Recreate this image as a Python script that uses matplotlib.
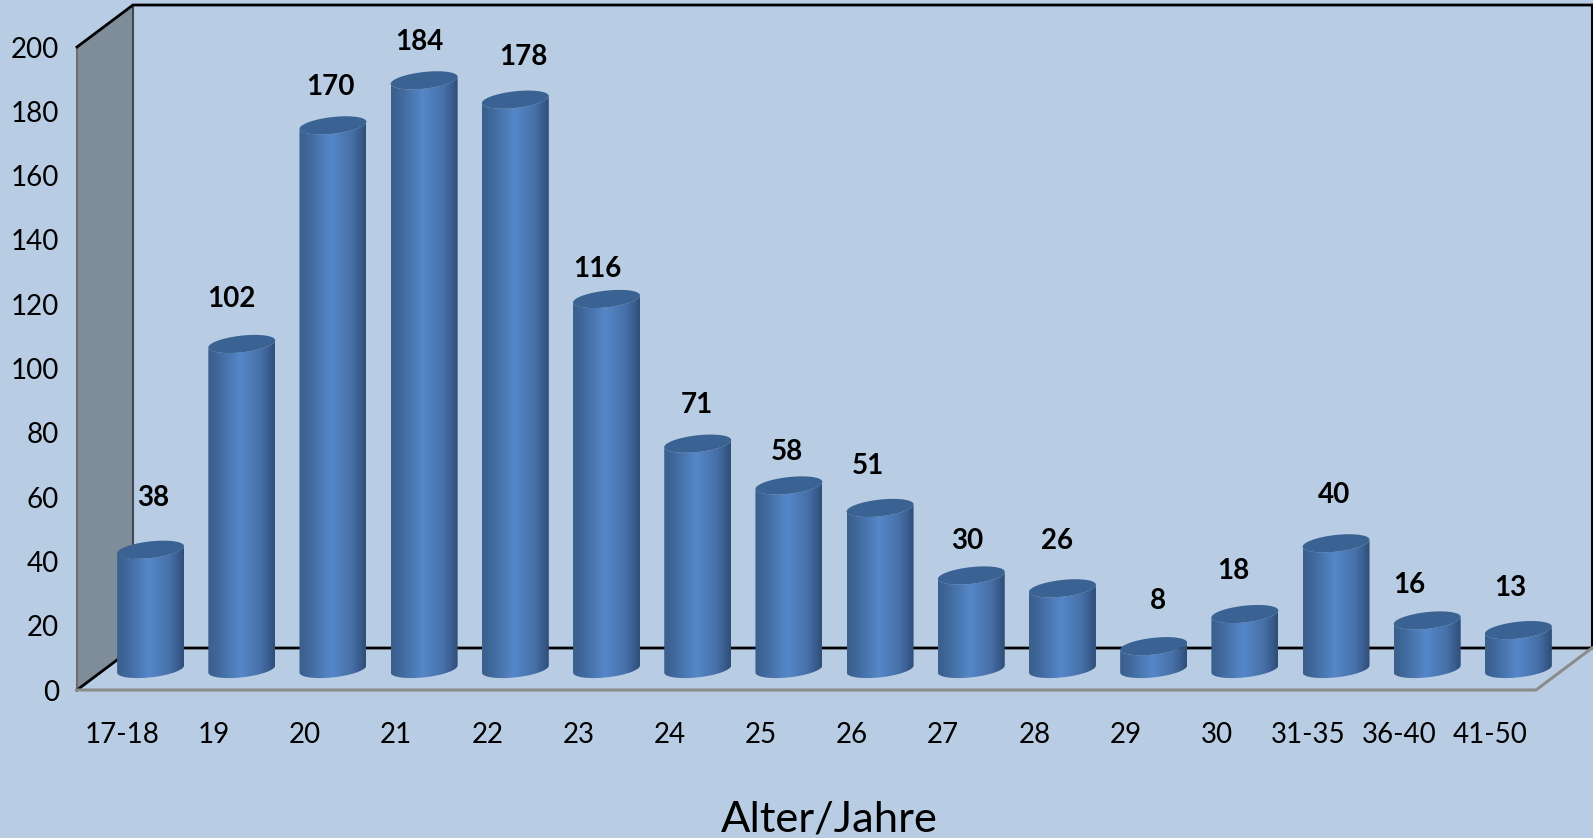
import numpy as np
import matplotlib
matplotlib.use("Agg")
import matplotlib.pyplot as plt
from matplotlib.colors import LinearSegmentedColormap
from matplotlib.patches import Polygon

ages = ["17-18", "19", "20", "21", "22", "23", "24", "25", "26", "27", "28", "29", "30", "31-35", "36-40", "41-50"]
counts = [38, 102, 170, 184, 178, 116, 71, 58, 51, 30, 26, 8, 18, 40, 16, 13]
y_ticks = [0, 20, 40, 60, 80, 100, 120, 140, 160, 180, 200]

# labels were moved by hand in the original, offsets in pixels from the bar top
label_dx = [3, -10, -3, -5, 8, -9, -1, -2, -12, -4, -5, 4, -12, -2, -18, -8]
label_dy = [52, 45, 38, 38, 43, 30, 39, 33, 42, 34, 47, 45, 43, 48, 35, 42]

BG = "#b8cce4"
WALL = "#7f8c99"
TOP = "#3a6292"
W, H = 1593, 838

plt.rcParams["font.family"] = ["Lato", "DejaVu Sans"]

fig = plt.figure(figsize=(W / 100, H / 100), dpi=100, facecolor=BG)
ax = fig.add_axes([77 / W, (H - 690) / H, (1536 - 77) / W, (690 - 47) / H])
ax.patch.set_visible(False)
for s in ax.spines.values():
    s.set_visible(False)

# depth of the fake 3d box in data units
dx = 0.614
dy = 13.06
x0, x1 = -0.5, 15.5
y1 = 200

wall = Polygon([(x0, 0), (x0, y1), (x0 + dx, y1 + dy), (x0 + dx, dy)], closed=True,
               facecolor=WALL, edgecolor="none", clip_on=False, zorder=1)
ax.add_patch(wall)

ax.plot([x0, x0], [0, y1], color="#6e6e6e", lw=1.5, clip_on=False, zorder=2)
ax.plot([x0 + dx, x0 + dx], [dy, y1 + dy], color="#404850", lw=1.5, clip_on=False, zorder=2)
ax.plot([x0, x0 + dx, x1 + dx], [y1, y1 + dy, y1 + dy], color="black", lw=2, clip_on=False, zorder=2)
ax.plot([x1 + dx, x1 + dx], [y1 + dy, dy], color="black", lw=1.5, clip_on=False, zorder=2)
ax.plot([x0, x0 + dx, x1 + dx], [0, dy, dy], color="black", lw=2, clip_on=False, zorder=2)
ax.plot([x0, x1, x1 + dx], [0, 0, dy], color="#8c8c8c", lw=2.2, clip_on=False, zorder=2)

cmap = LinearSegmentedColormap.from_list("cyl", [
    (0.0, "#3a5f8c"), (0.12, "#3f6698"), (0.48, "#5587c9"),
    (0.8, "#466fa6"), (0.93, "#37598a"), (1.0, "#2f4e75"),
])
ramp = np.linspace(0, 1, 256).reshape(1, -1)

half_w = 0.367
b = 2.6
shear = 1.1
t = np.linspace(0, 2 * np.pi, 100)

for i, v in enumerate(counts):
    cx = i + dx / 2
    base = dy / 2
    top = base + v - 0.9
    # body: lower half of base ellipse, then up and back along the top ellipse
    tb = np.linspace(np.pi, 2 * np.pi, 50)
    xs = np.r_[cx + half_w * np.cos(tb), cx + half_w * np.cos(tb[::-1])]
    ys = np.r_[base + b * np.sin(tb) + shear * np.cos(tb),
               top + b * np.sin(tb[::-1]) + shear * np.cos(tb[::-1])]
    body = Polygon(np.c_[xs, ys], closed=True, facecolor="none", edgecolor="none",
                   clip_on=False, zorder=3)
    ax.add_patch(body)
    im = ax.imshow(ramp, cmap=cmap, aspect="auto", zorder=3,
                   extent=[cx - half_w, cx + half_w, base - 5, top + 5])
    im.set_clip_box(fig.bbox)
    im.set_clip_path(body)
    cap = Polygon(np.c_[cx + half_w * np.cos(t), top + b * np.sin(t) + shear * np.cos(t)],
                  closed=True, facecolor=TOP, edgecolor="none", clip_on=False, zorder=4)
    ax.add_patch(cap)
    ax.annotate(str(v), (cx, top), xytext=(label_dx[i], label_dy[i]), textcoords="offset pixels",
                ha="center", va="center", fontsize=20, fontweight="bold", color="black",
                annotation_clip=False, zorder=5)

ax.set_xlim(x0, x1)
ax.set_ylim(0, y1)
ax.set_xticks(range(len(ages)))
ax.set_xticklabels(ages)
ax.set_yticks(y_ticks)
ax.tick_params(axis="x", length=0, pad=23, labelsize=20)
ax.tick_params(axis="y", length=0, pad=13, labelsize=20)
ax.set_xlabel("Alter/Jahre", fontsize=31.3, x=(829 - 77) / (1536 - 77), labelpad=38)

fig.savefig("out.png", dpi=100, facecolor=BG)
